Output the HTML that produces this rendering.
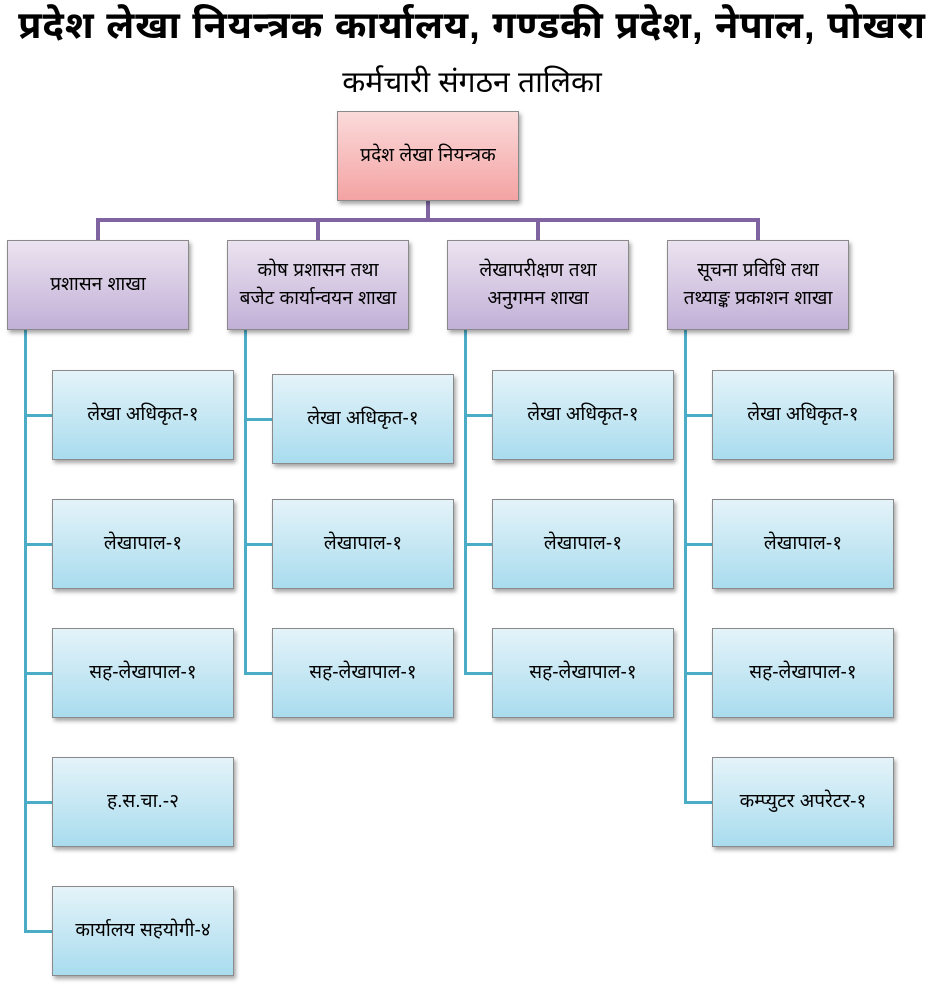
<!DOCTYPE html>
<html><head><meta charset="utf-8"><style>
body{margin:0;width:944px;height:998px;background:#fff;position:relative;overflow:hidden;font-family:"Liberation Sans","Noto Sans Devanagari","Lohit Devanagari",sans-serif;}
.t{position:absolute;left:0;width:944px;text-align:center;color:#000;white-space:nowrap;}
.b{position:absolute;box-sizing:border-box;border:1px solid #8a8a8a;display:flex;align-items:center;justify-content:center;text-align:center;font-size:19px;line-height:28px;color:#000;box-shadow:2px 3px 4px rgba(0,0,0,.35);white-space:nowrap;}
.top{background:linear-gradient(#fbdada,#f4a3a3);}
.br{background:linear-gradient(#ebe3f0,#c2b0d7);}
.c{background:linear-gradient(#e4f3f9,#a9dcee);}
.l{position:absolute;}
.p{background:#8064a2;}
.q{background:#4bacc6;}
</style></head><body>
<div class="t" style="top:4px;font-size:38px;font-weight:bold;letter-spacing:1px;">प्रदेश लेखा नियन्त्रक कार्यालय, गण्डकी प्रदेश, नेपाल, पोखरा</div>
<div class="t" style="top:66px;font-size:30px;">कर्मचारी संगठन तालिका</div>

<div class="l p" style="left:426px;top:200px;width:4px;height:21px"></div>
<div class="l p" style="left:96px;top:218px;width:664px;height:4px"></div>
<div class="l p" style="left:96px;top:218px;width:4px;height:22px"></div>
<div class="l p" style="left:316px;top:218px;width:4px;height:22px"></div>
<div class="l p" style="left:536px;top:218px;width:4px;height:22px"></div>
<div class="l p" style="left:756px;top:218px;width:4px;height:22px"></div>

<div class="l q" style="left:24px;top:330px;width:3px;height:602px"></div>
<div class="l q" style="left:244px;top:330px;width:3px;height:344px"></div>
<div class="l q" style="left:464px;top:330px;width:3px;height:344px"></div>
<div class="l q" style="left:684px;top:330px;width:3px;height:473px"></div>

<div class="l q" style="left:24px;top:414px;width:28px;height:3px"></div>
<div class="l q" style="left:24px;top:543px;width:28px;height:3px"></div>
<div class="l q" style="left:24px;top:672px;width:28px;height:3px"></div>
<div class="l q" style="left:24px;top:801px;width:28px;height:3px"></div>
<div class="l q" style="left:24px;top:930px;width:28px;height:3px"></div>
<div class="l q" style="left:244px;top:418px;width:28px;height:3px"></div>
<div class="l q" style="left:244px;top:543px;width:28px;height:3px"></div>
<div class="l q" style="left:244px;top:672px;width:28px;height:3px"></div>
<div class="l q" style="left:464px;top:414px;width:28px;height:3px"></div>
<div class="l q" style="left:464px;top:543px;width:28px;height:3px"></div>
<div class="l q" style="left:464px;top:672px;width:28px;height:3px"></div>
<div class="l q" style="left:684px;top:414px;width:28px;height:3px"></div>
<div class="l q" style="left:684px;top:543px;width:28px;height:3px"></div>
<div class="l q" style="left:684px;top:672px;width:28px;height:3px"></div>
<div class="l q" style="left:684px;top:801px;width:28px;height:3px"></div>

<div class="b top" style="left:337px;top:111px;width:182px;height:90px">प्रदेश लेखा नियन्त्रक</div>

<div class="b br" style="left:7px;top:240px;width:182px;height:90px">प्रशासन शाखा</div>
<div class="b br" style="left:227px;top:240px;width:182px;height:90px">कोष प्रशासन तथा<br>बजेट कार्यान्वयन शाखा</div>
<div class="b br" style="left:447px;top:240px;width:182px;height:90px">लेखापरीक्षण तथा<br>अनुगमन शाखा</div>
<div class="b br" style="left:667px;top:240px;width:182px;height:90px">सूचना प्रविधि तथा<br>तथ्याङ्क प्रकाशन शाखा</div>

<div class="b c" style="left:52px;top:370px;width:182px;height:90px">लेखा अधिकृत-१</div>
<div class="b c" style="left:52px;top:499px;width:182px;height:90px">लेखापाल-१</div>
<div class="b c" style="left:52px;top:628px;width:182px;height:90px">सह-लेखापाल-१</div>
<div class="b c" style="left:52px;top:757px;width:182px;height:90px">ह.स.चा.-२</div>
<div class="b c" style="left:52px;top:886px;width:182px;height:90px">कार्यालय सहयोगी-४</div>

<div class="b c" style="left:272px;top:374px;width:182px;height:90px">लेखा अधिकृत-१</div>
<div class="b c" style="left:272px;top:499px;width:182px;height:90px">लेखापाल-१</div>
<div class="b c" style="left:272px;top:628px;width:182px;height:90px">सह-लेखापाल-१</div>

<div class="b c" style="left:492px;top:370px;width:182px;height:90px">लेखा अधिकृत-१</div>
<div class="b c" style="left:492px;top:499px;width:182px;height:90px">लेखापाल-१</div>
<div class="b c" style="left:492px;top:628px;width:182px;height:90px">सह-लेखापाल-१</div>

<div class="b c" style="left:712px;top:370px;width:182px;height:90px">लेखा अधिकृत-१</div>
<div class="b c" style="left:712px;top:499px;width:182px;height:90px">लेखापाल-१</div>
<div class="b c" style="left:712px;top:628px;width:182px;height:90px">सह-लेखापाल-१</div>
<div class="b c" style="left:712px;top:757px;width:182px;height:90px">कम्प्युटर अपरेटर-१</div>
</body></html>
